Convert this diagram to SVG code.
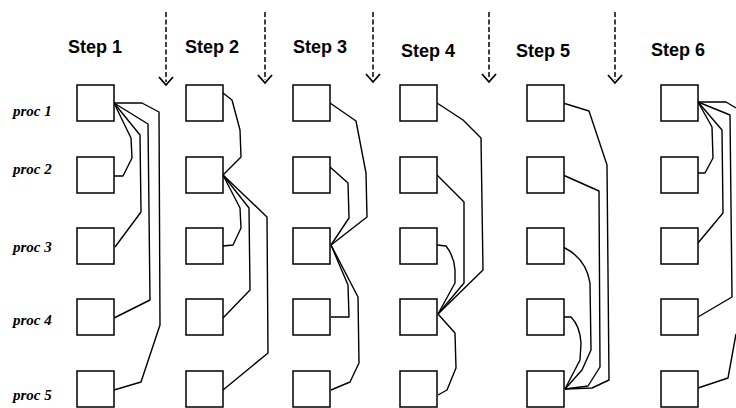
<svg xmlns="http://www.w3.org/2000/svg" width="736" height="408" viewBox="0 0 736 408">
<defs>
<style>
.box{fill:#fff;stroke:#000;stroke-width:1.5}
.ln{fill:none;stroke:#000;stroke-width:1.4;stroke-linejoin:round}
.dash{fill:none;stroke:#000;stroke-width:1.5;stroke-dasharray:5 2.5}
.head{fill:none;stroke:#000;stroke-width:1.8}
.step{font-family:"Liberation Sans",Arial,sans-serif;font-weight:bold;font-size:18px;fill:#000}
.proc{font-family:"Liberation Serif","Times New Roman",serif;font-weight:bold;font-style:italic;font-size:15px;fill:#000}
</style>
</defs>
<rect width="736" height="408" fill="#fff"/>
<g id="headers">
<text class="step" x="68" y="53">Step 1</text>
<text class="step" x="185" y="53">Step 2</text>
<text class="step" x="293" y="53">Step 3</text>
<text class="step" x="401" y="57">Step 4</text>
<text class="step" x="516" y="57">Step 5</text>
<text class="step" x="651" y="56">Step 6</text>
</g>
<g id="labels">
<text class="proc" x="13" y="116">proc 1</text>
<text class="proc" x="13" y="174">proc 2</text>
<text class="proc" x="13" y="252">proc 3</text>
<text class="proc" x="13" y="325">proc 4</text>
<text class="proc" x="13" y="400">proc 5</text>
</g>
<g id="arrows">
<path class="dash" d="M166,12 V82"/><polyline class="head" points="159,77 166,85 173,77"/>
<path class="dash" d="M265,12 V80"/><polyline class="head" points="258,75 265,83 272,75"/>
<path class="dash" d="M373,12 V79"/><polyline class="head" points="366,74 373,82 380,74"/>
<path class="dash" d="M489,12 V79"/><polyline class="head" points="482,74 489,82 496,74"/>
<path class="dash" d="M615,12 V80"/><polyline class="head" points="608,75 615,83 622,75"/>
</g>
<g id="connectors">
<!-- step 1 -->
<path class="ln" d="M114,103 L131,138 L132,158 L123,176 L114,176"/>
<path class="ln" d="M114,103 L140,135 L141,212 L115,247"/>
<path class="ln" d="M114,103 L148,124 L150,300 L114,318"/>
<path class="ln" d="M114,103 L142,103 L159,112 L160,325 L141,382 L114,390"/>
<!-- step 2 -->
<path class="ln" d="M223,93 L232,100 L240,130 L241,157 L223,175"/>
<path class="ln" d="M223,175 L240,208 L241,228 L233,245 L223,246"/>
<path class="ln" d="M223,175 L249,208 L250,290 L223,318"/>
<path class="ln" d="M223,175 L267,217 L268,353 L223,390"/>
<!-- step 3 -->
<path class="ln" d="M330,103 L356,121 L366,173 L367,217 L331,245"/>
<path class="ln" d="M330,167 L348,183 L349,218 L331,245"/>
<path class="ln" d="M331,245 L348,285 L349,317 L331,317"/>
<path class="ln" d="M331,245 L358,297 L359,363 L350,382 L331,390"/>
<!-- step 4 -->
<path class="ln" d="M437,103 L463,120 L481,138 L483,270 L438,314"/>
<path class="ln" d="M437,175 L464,202 L464,283 L438,314"/>
<path class="ln" d="M437,245 L446,246 Q454,256 455,270 L455,283 L438,314"/>
<path class="ln" d="M438,314 L455,333 L456,368 L447,390 L438,395"/>
<!-- step 5 -->
<path class="ln" d="M563,103 L589,111 L607,165 L609,380 L592,388 L565,389"/>
<path class="ln" d="M563,175 L599,191 L600,367 L588,386 L565,389"/>
<path class="ln" d="M563,247 Q586,258 590,283 L591,350 L582,370 L565,389"/>
<path class="ln" d="M564,317 L571,317 Q580,326 581,343 L580,360 L565,389"/>
<!-- step 6 -->
<path class="ln" d="M698,102 L712,127 L713,158 L705,173 L698,173"/>
<path class="ln" d="M698,102 L722,130 L723,213 L698,243"/>
<path class="ln" d="M698,102 L730,115 L732,297 L698,317"/>
<path class="ln" d="M698,102 L726,102 L736,108"/>
<path class="ln" d="M736,334 L728,378 L698,388"/>
</g>
<g id="col1">
<rect id="s1p1" class="box" x="77" y="85" width="37" height="36"/>
<rect id="s1p2" class="box" x="77" y="157" width="37" height="36"/>
<rect id="s1p3" class="box" x="77" y="228" width="37" height="36"/>
<rect id="s1p4" class="box" x="77" y="299" width="37" height="36"/>
<rect id="s1p5" class="box" x="77" y="371" width="37" height="36"/>
</g>
<g id="col2">
<rect id="s2p1" class="box" x="186" y="85" width="37" height="36"/>
<rect id="s2p2" class="box" x="186" y="157" width="37" height="36"/>
<rect id="s2p3" class="box" x="186" y="228" width="37" height="36"/>
<rect id="s2p4" class="box" x="186" y="299" width="37" height="36"/>
<rect id="s2p5" class="box" x="186" y="371" width="37" height="36"/>
</g>
<g id="col3">
<rect id="s3p1" class="box" x="293" y="85" width="37" height="36"/>
<rect id="s3p2" class="box" x="293" y="157" width="37" height="36"/>
<rect id="s3p3" class="box" x="293" y="228" width="37" height="36"/>
<rect id="s3p4" class="box" x="293" y="299" width="37" height="36"/>
<rect id="s3p5" class="box" x="293" y="371" width="37" height="36"/>
</g>
<g id="col4">
<rect id="s4p1" class="box" x="400" y="85" width="37" height="36"/>
<rect id="s4p2" class="box" x="400" y="157" width="37" height="36"/>
<rect id="s4p3" class="box" x="400" y="228" width="37" height="36"/>
<rect id="s4p4" class="box" x="400" y="299" width="37" height="36"/>
<rect id="s4p5" class="box" x="400" y="371" width="37" height="36"/>
</g>
<g id="col5">
<rect id="s5p1" class="box" x="527" y="85" width="37" height="36"/>
<rect id="s5p2" class="box" x="527" y="157" width="37" height="36"/>
<rect id="s5p3" class="box" x="527" y="228" width="37" height="36"/>
<rect id="s5p4" class="box" x="527" y="299" width="37" height="36"/>
<rect id="s5p5" class="box" x="527" y="371" width="37" height="36"/>
</g>
<g id="col6">
<rect id="s6p1" class="box" x="661" y="85" width="37" height="36"/>
<rect id="s6p2" class="box" x="661" y="157" width="37" height="36"/>
<rect id="s6p3" class="box" x="661" y="228" width="37" height="36"/>
<rect id="s6p4" class="box" x="661" y="299" width="37" height="36"/>
<rect id="s6p5" class="box" x="661" y="371" width="37" height="36"/>
</g>
</svg>
